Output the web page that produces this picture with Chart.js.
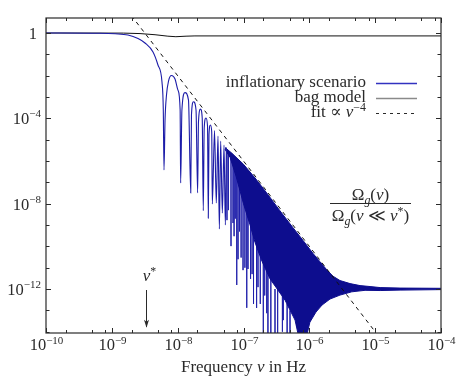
<!DOCTYPE html>
<html>
<head>
<meta charset="utf-8">
<title>Omega_g spectrum</title>
<script src="https://cdn.jsdelivr.net/npm/chart.js@4.4.1/dist/chart.umd.min.js"></script>
<style>
  html, body { margin: 0; padding: 0; background: #fff; }
  canvas { display: block; }
</style>
</head>
<body>
<canvas id="chart" width="464" height="379"></canvas>
<script>
// Data: nu in Hz, Omega normalised to its low-frequency value

// inflationary scenario, resolved oscillations up to ~5e-8 Hz
const inflNu = [1e-10, 6.6e-10, 1.12e-9, 1.76e-9, 2.5e-9, 3.19e-9, 4.22e-9, 5.02e-9, 5.78e-9, 6.05e-9,
  6.2e-9, 6.43e-9, 6.76e-9, 7.26e-9, 8.05e-9, 9.12e-9, 1.01e-8, 1.09e-8,
  1.11e-8, 1.16e-8, 1.29e-8, 1.46e-8,
  1.58e-8, 1.62e-8, 1.74e-8, 1.9e-8,
  2.01e-8, 2.07e-8, 2.22e-8, 2.36e-8,
  2.45e-8, 2.53e-8, 2.69e-8, 2.84e-8,
  2.92e-8, 2.99e-8, 3.15e-8, 3.29e-8,
  3.36e-8, 3.63e-8, 3.86e-8, 4.1e-8, 4.3e-8, 4.5e-8, 4.77e-8, 5.06e-8, 5.3e-8, 5.5e-8];
const inflOmega = [1, 0.97, 0.92, 0.81, 0.55, 0.34, 0.129, 0.0316, 5.0e-3, 2.45e-4,
  3.8e-7, 8.3e-5, 1.2e-3, 5.6e-3, 1.02e-2, 7e-3, 2.1e-3, 2.45e-4,
  9.3e-8, 2.4e-4, 1.6e-3, 7.2e-4,
  3.2e-8, 1.44e-4, 6.0e-4, 2.45e-4,
  3.2e-8, 6.7e-5, 2.7e-4, 1.04e-4,
  4.7e-9, 3.5e-5, 1.04e-4, 4.4e-5,
  2.1e-9, 1.66e-5, 4.9e-5, 2.3e-5,
  9.6e-9, 2.7e-5, 1.07e-8, 1.48e-5, 6.5e-10, 8.7e-6, 3.6e-9, 5.6e-6, 1e-9, 4.3e-6];

// dense part: upper and lower edge of the filled band
const bandNu = [5.24e-8, 6.68e-8, 1e-7, 1.5e-7, 2.25e-7, 3.59e-7, 5.65e-7, 8.02e-7, 1.14e-6, 1.45e-6,
  1.84e-6, 2.29e-6, 2.92e-6, 4.15e-6, 5.89e-6, 8.36e-6, 1.19e-5, 2.39e-5, 1e-4];
const bandTop = [4.3e-6, 2.3e-6, 7e-7, 1.6e-7, 3.2e-8, 4.6e-9, 7.5e-10, 1.9e-10, 4.6e-11, 1.9e-11,
  8e-12, 4e-12, 2.5e-12, 1.8e-12, 1.45e-12, 1.31e-12, 1.17e-12, 1.11e-12, 1.08e-12];
const bandLowNu = [5.24e-8, 6.24e-8, 7.69e-8, 1e-7, 1.26e-7, 1.5e-7, 1.91e-7, 2.53e-7, 4.28e-7, 6.07e-7,
  7.21e-7, 8.59e-7, 1.02e-6, 1.26e-6, 1.56e-6, 2.06e-6, 2.92e-6, 4.41e-6, 7.02e-6, 1.19e-5, 2.39e-5, 1e-4];
const bandLow = [3.5e-6, 1.5e-6, 2e-7, 1e-8, 1e-9, 1.5e-10, 2e-11, 3e-12, 3.0e-13, 3.5e-14,
  3e-15, 3e-15, 2.8e-14, 8.3e-14, 1.78e-13, 3.4e-13, 5.2e-13, 7.4e-13, 8.7e-13, 8.5e-13, 8.9e-13, 9.4e-13];

// single deep minima sticking out below the band
const spikeNu = [5.61e-8, 5.9e-8, 6.46e-8, 6.93e-8, 7.2e-8, 7.5e-8, 7.89e-8, 8.26e-8, 8.7e-8, 9.2e-8,
  9.84e-8, 1.05e-7, 1.12e-7, 1.17e-7, 1.28e-7, 1.35e-7, 1.42e-7, 1.58e-7, 1.66e-7, 1.8e-7,
  2.0e-7, 2.1e-7, 2.25e-7, 2.35e-7, 2.6e-7, 3.01e-7, 3.3e-7, 3.9e-7, 4.03e-7, 4.6e-7,
  5.09e-7, 6.43e-7];
const spikeTop = [3e-6, 2.5e-6, 1.8e-6, 1.5e-6, 1.2e-6, 1e-6, 8e-7, 7e-7, 6e-7, 5e-7,
  4e-7, 3e-7, 2e-7, 1.5e-7, 1e-7, 8e-8, 6e-8, 4e-8, 3e-8, 1e-8,
  5e-9, 3e-9, 2e-9, 1e-10, 3e-12, 1e-12, 1e-12, 5e-13, 5e-13, 2e-13,
  1e-13, 5e-14];
const spikeLow = [1.7e-9, 5e-9, 1.03e-10, 1.24e-9, 3e-10, 2e-9, 1.55e-12, 2.5e-11, 5e-10, 3e-11,
  7.7e-12, 1e-11, 1.32e-13, 8.7e-12, 3e-12, 5e-12, 2e-13, 1.3e-13, 1.23e-12, 2e-13,
  3e-15, 5e-13, 7.4e-14, 3e-15, 3e-15, 3e-15, 3e-15, 1e-14, 3.5e-14, 3e-15,
  3e-15, 1.7e-14];

// bag model
const bagNu = [1e-10, 1.5e-9, 2.68e-9, 4.53e-9, 7.1e-9, 9.4e-9, 1.34e-8, 1.83e-8, 1e-4];
const bagOmega = [1, 0.99, 0.94, 0.83, 0.71, 0.67, 0.71, 0.73, 0.73];

// fit proportional to nu^-4
const fitNu = [1e-9, 1e-5];
const fitOmega = [100, 1e-14];

// axes
const xDecades = [-10, -9, -8, -7, -6, -5, -4];
const xMinor = [2, 5, 8];
const yDecades = [0, -1, -2, -3, -4, -5, -6, -7, -8, -9, -10, -11, -12, -13, -14];
const yLabelled = [0, -4, -8, -12];
const nuStar = 3.3e-9, arrowFrom = 9e-13, arrowTo = 1.7e-14;

const BLUE = '#1c1ca8', NAVY = '#0d0d8e', INK = '#2a2a2a';
const SERIF = '"Liberation Serif", "DejaVu Serif", serif';

const pts = (xs, ys) => xs.map((v, i) => ({x: v, y: ys[i]}));
const spikePts = spikeNu.flatMap((v, i) => [{x: v, y: spikeTop[i]}, {x: v, y: spikeLow[i]}, {x: v, y: null}]);

// 10^e label with a raised exponent
function drawPow(ctx, e, x, y, align) {
  const base = e === 0 ? '1' : '10';
  const sup = e === 0 ? '' : '\u2212' + Math.abs(e);
  ctx.font = '16.5px ' + SERIF;
  const wb = ctx.measureText(base).width;
  ctx.font = '11px ' + SERIF;
  const ws = sup ? ctx.measureText(sup).width : 0;
  let x0 = align === 'center' ? x - (wb + ws) / 2 : x - wb - ws;
  ctx.textAlign = 'left';
  ctx.font = '16.5px ' + SERIF;
  ctx.fillText(base, x0, y);
  if (sup) { ctx.font = '11px ' + SERIF; ctx.fillText(sup, x0 + wb, y - 6.5); }
}

// sequence of [text, style] pieces, style: r roman, i italic, s sub, p sup
function drawRich(ctx, parts, x, y, align, size) {
  const fontFor = st => (st === 'i' ? 'italic ' : st === 's' ? 'italic ' : '') +
    (st === 's' || st === 'p' ? size * 0.7 : size) + 'px ' + SERIF;
  let w = 0;
  parts.forEach(([t, st]) => { ctx.font = fontFor(st); w += ctx.measureText(t).width; });
  let cx = align === 'center' ? x - w / 2 : align === 'right' ? x - w : x;
  ctx.textAlign = 'left';
  parts.forEach(([t, st]) => {
    ctx.font = fontFor(st);
    const dy = st === 's' ? 3.5 : st === 'p' ? -6.5 : 0;
    ctx.fillText(t, cx, y + dy);
    cx += ctx.measureText(t).width;
  });
  return w;
}

const overlay = {
  id: 'overlay',
  beforeDraw(chart) {
    const c = chart.ctx;
    c.save(); c.fillStyle = '#fff'; c.fillRect(0, 0, chart.width, chart.height); c.restore();
  },
  afterDraw(chart) {
    const {ctx, chartArea: a, scales: {x, y}} = chart;
    ctx.save();
    ctx.strokeStyle = INK; ctx.fillStyle = INK;

    const line = (x1, y1, x2, y2) => { ctx.beginPath(); ctx.moveTo(x1, y1); ctx.lineTo(x2, y2); ctx.stroke(); };

    // frame
    ctx.lineWidth = 1.2;
    ctx.strokeRect(a.left, a.top, a.right - a.left, a.bottom - a.top);

    // x ticks, inward on bottom and top
    ctx.lineWidth = 1;
    xDecades.forEach((e, k) => {
      const px = Math.round(x.getPixelForValue(Math.pow(10, e))) + 0.5;
      line(px, a.bottom, px, a.bottom - 5); line(px, a.top, px, a.top + 5);
      if (k < xDecades.length - 1) xMinor.forEach(m => {
        const p = Math.round(x.getPixelForValue(m * Math.pow(10, e))) + 0.5;
        line(p, a.bottom, p, a.bottom - 3); line(p, a.top, p, a.top + 3);
      });
      drawPow(ctx, e, px, a.bottom + 17, 'center');
    });

    // y ticks, inward on left and right
    yDecades.forEach(e => {
      const py = Math.round(y.getPixelForValue(Math.pow(10, e))) + 0.5;
      const len = yLabelled.includes(e) ? 5 : 3.5;
      line(a.left, py, a.left + len, py); line(a.right, py, a.right - len, py);
      if (yLabelled.includes(e)) drawPow(ctx, e, e === 0 ? a.left - 9 : a.left - 5, py + 5, 'right');
    });

    // axis title
    drawRich(ctx, [['Frequency ', 'r'], ['\u03BD', 'i'], [' in Hz', 'r']], (a.left + a.right) / 2, 372, 'center', 17);

    // legend
    const lx = 366;
    drawRich(ctx, [['inflationary scenario', 'r']], lx, 87, 'right', 17);
    drawRich(ctx, [['bag model', 'r']], lx, 102, 'right', 17);
    drawRich(ctx, [['fit \u221D ', 'r'], ['\u03BD', 'i'], ['\u22124', 'p']], lx, 117, 'right', 17);
    ctx.lineWidth = 1.3;
    ctx.strokeStyle = '#3232c0'; line(376, 83.5, 417, 83.5);
    ctx.strokeStyle = '#8a8a8a'; ctx.lineWidth = 1.6; line(376, 98.5, 417, 98.5);
    ctx.strokeStyle = INK; ctx.lineWidth = 1; ctx.setLineDash([3, 4]); line(376, 113.5, 417, 113.5); ctx.setLineDash([]);

    // ratio label
    const fx = 370.5;
    drawRich(ctx, [['\u03A9', 'r'], ['g', 's'], ['(', 'r'], ['\u03BD', 'i'], [')', 'r']], fx, 200, 'center', 17);
    ctx.lineWidth = 1; line(330, 203.5, 411, 203.5);
    drawRich(ctx, [['\u03A9', 'r'], ['g', 's'], ['(', 'r'], ['\u03BD', 'i'], [' \u226A ', 'r'], ['\u03BD', 'i'], ['*', 'p'], [')', 'r']], fx, 221, 'center', 17);

    // nu* marker
    const sx = Math.round(x.getPixelForValue(nuStar)) + 0.5;
    const y1 = y.getPixelForValue(arrowFrom), y2 = y.getPixelForValue(arrowTo);
    drawRich(ctx, [['\u03BD', 'i'], ['*', 'p']], sx + 3, 281, 'center', 17);
    ctx.lineWidth = 1; line(sx, y1, sx, y2);
    ctx.beginPath(); ctx.moveTo(sx, y2 + 1); ctx.lineTo(sx - 2.5, y2 - 7); ctx.lineTo(sx, y2 - 5); ctx.lineTo(sx + 2.5, y2 - 7); ctx.closePath(); ctx.fill();

    ctx.restore();
  }
};

new Chart(document.getElementById('chart'), {
  type: 'line',
  data: {
    datasets: [
      {label: 'fit', data: pts(fitNu, fitOmega), borderColor: '#111', borderWidth: 1, borderDash: [4, 4], clip: 0},
      {label: 'inflationary scenario', data: pts(inflNu, inflOmega), borderColor: BLUE, borderWidth: 1.1,
        cubicInterpolationMode: 'monotone', clip: 0},
      {label: 'band top', data: pts(bandNu, bandTop), borderColor: NAVY, borderWidth: 1,
        backgroundColor: NAVY, fill: '+1', clip: 0},
      {label: 'band low', data: pts(bandLowNu, bandLow), borderColor: NAVY, borderWidth: 1, clip: 0},
      {label: 'minima', data: spikePts, borderColor: 'rgba(30,30,170,0.75)', borderWidth: 1, spanGaps: false, clip: 0},
      {label: 'bag model', data: pts(bagNu, bagOmega), borderColor: '#111', borderWidth: 1, clip: 0}
    ]
  },
  options: {
    responsive: false,
    animation: false,
    layout: {padding: {left: 46, top: 18, right: 23, bottom: 46}},
    elements: {point: {radius: 0}, line: {tension: 0}},
    plugins: {legend: {display: false}, tooltip: {enabled: false}},
    scales: {
      x: {type: 'logarithmic', min: 1e-10, max: 1e-4, display: false},
      y: {type: 'logarithmic', min: 8.7e-15, max: 5.05, display: false}
    }
  },
  plugins: [overlay]
});
</script>
</body>
</html>
